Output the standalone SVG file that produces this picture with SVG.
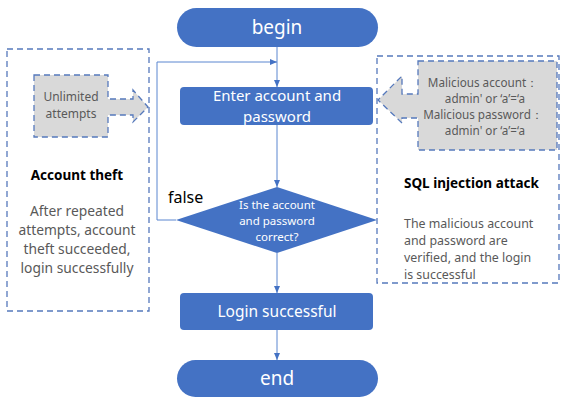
<svg xmlns="http://www.w3.org/2000/svg" width="561" height="399" viewBox="0 0 561 399">
<defs>
<style>
.term{fill:#4472C4;}
.proc{fill:#4472C4;}
.wt{fill:#fff;font-family:"Noto Sans","Open Sans",sans-serif;text-anchor:middle;}
.dash{fill:none;stroke:#5679BC;stroke-width:1.3;stroke-dasharray:6,4;}
.call{fill:#D9D9D9;stroke:#5679BC;stroke-width:1.3;stroke-dasharray:6,4;}
.gt{fill:#595959;font-family:"Noto Sans","Open Sans",sans-serif;}
.bt{fill:#000;font-family:"Noto Sans","Open Sans",sans-serif;font-weight:bold;}
.ln{fill:none;stroke:#5B86D0;stroke-width:1;}
</style>
<marker id="ah" markerWidth="8" markerHeight="8" refX="7" refY="4" orient="auto" markerUnits="userSpaceOnUse">
<path d="M0,1 L7,4 L0,7 Z" fill="#4472C4"/>
</marker>
</defs>
<g id="connectors">
<line class="ln" x1="277" y1="47" x2="277" y2="87" marker-end="url(#ah)"/>
<line class="ln" x1="277" y1="125" x2="277" y2="187" marker-end="url(#ah)"/>
<line class="ln" x1="277" y1="253" x2="277" y2="293" marker-end="url(#ah)"/>
<line class="ln" x1="277" y1="330" x2="277" y2="360" marker-end="url(#ah)"/>
<polyline class="ln" points="176,220 157,220 157,62 277,62" marker-end="url(#ah)"/>
<text x="168" y="203" font-family="Noto Sans,Open Sans,sans-serif" font-size="16" fill="#000">false</text>
</g>
<g id="begin">
<rect class="term" x="177" y="8" width="201" height="39" rx="19.5"/>
<text class="wt" x="277" y="34" font-size="19">begin</text>
</g>
<g id="enter">
<rect class="proc" x="180" y="87" width="193" height="38" rx="4"/>
<text class="wt" x="277" y="101" font-size="15">Enter account and</text>
<text class="wt" x="277" y="122" font-size="15">password</text>
</g>
<g id="check">
<polygon class="proc" points="277,187 377,220 277,253 176,220"/>
<text class="wt" x="277" y="209" font-size="11.5">Is the account</text>
<text class="wt" x="277" y="225" font-size="11.5">and password</text>
<text class="wt" x="277" y="241" font-size="11.5">correct?</text>
</g>
<g id="login">
<rect class="proc" x="180" y="293" width="193" height="37" rx="4"/>
<text class="wt" x="277" y="317" font-size="15.5">Login successful</text>
</g>
<g id="end">
<rect class="term" x="177" y="360" width="201" height="37" rx="18.5"/>
<text class="wt" x="277" y="385" font-size="19">end</text>
</g>
<g id="account-theft">
<rect class="dash" x="7" y="49" width="142" height="262"/>
<path class="call" d="M34,75 H108 V99 H133 V90 L148,107 L133,122 V115 H108 V137 H34 Z"/>
<text class="gt" x="71" y="101" font-size="12" text-anchor="middle">Unlimited</text>
<text class="gt" x="71" y="118" font-size="12" text-anchor="middle">attempts</text>
<text class="bt" x="77" y="180" font-size="13.5" text-anchor="middle">Account theft</text>
<text class="gt" x="77" y="216" font-size="13.8" text-anchor="middle">After repeated</text>
<text class="gt" x="77" y="235" font-size="13.8" text-anchor="middle">attempts, account</text>
<text class="gt" x="77" y="254" font-size="13.8" text-anchor="middle">theft succeeded,</text>
<text class="gt" x="77" y="273" font-size="13.8" text-anchor="middle">login successfully</text>
</g>
<g id="sql-injection">
<rect class="dash" x="377" y="56" width="182" height="227"/>
<path class="call" d="M418,61 H557 V150 H418 V118 H402 V123 L378,100 L402,76 V94 H418 Z"/>
<text class="gt" x="483" y="87" font-size="11.7" text-anchor="middle">Malicious account：</text>
<text class="gt" x="485" y="103" font-size="11.7" text-anchor="middle">admin' or ‘a’=‘a</text>
<text class="gt" x="483" y="119" font-size="11.7" text-anchor="middle">Malicious password：</text>
<text class="gt" x="485" y="135" font-size="11.7" text-anchor="middle">admin' or ‘a’=‘a</text>
<text class="bt" x="404" y="188" font-size="13.5">SQL injection attack</text>
<text class="gt" x="404" y="228" font-size="12.4">The malicious account</text>
<text class="gt" x="404" y="245" font-size="12.4">and password are</text>
<text class="gt" x="404" y="262" font-size="12.4">verified, and the login</text>
<text class="gt" x="404" y="279" font-size="12.4">is successful</text>
</g>
</svg>
